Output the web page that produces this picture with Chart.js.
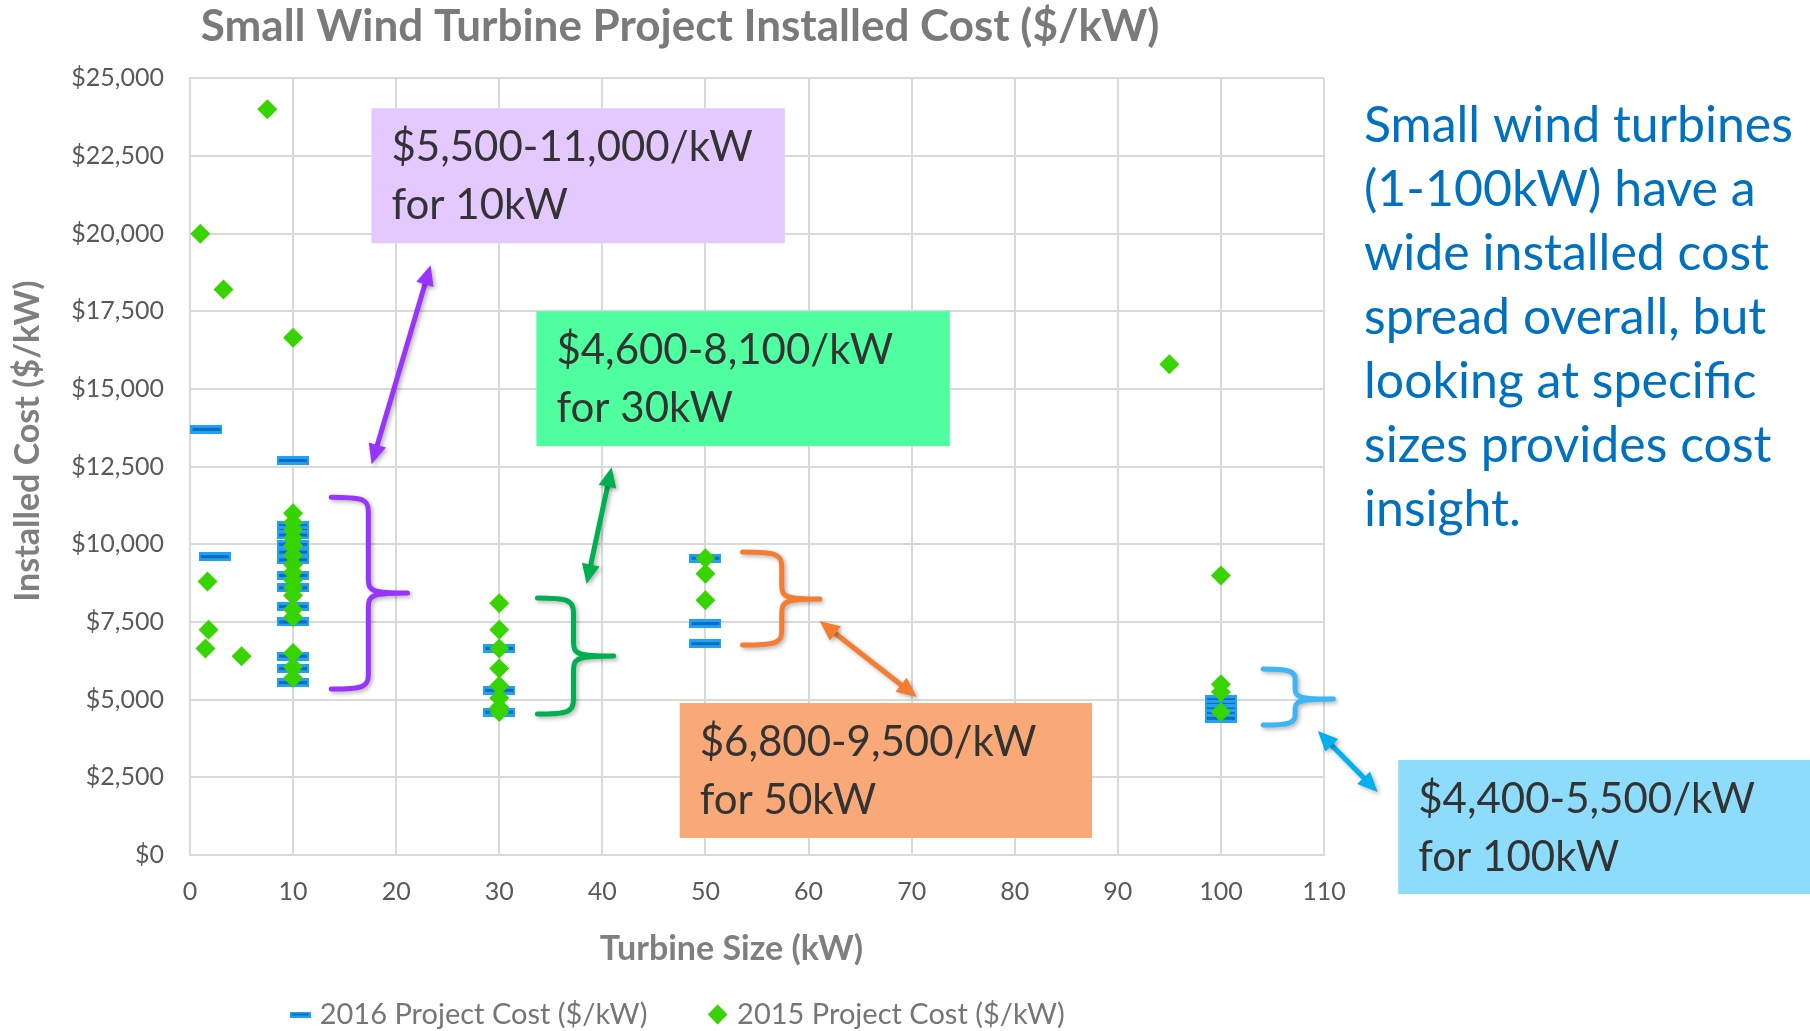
<!DOCTYPE html>
<html lang="en">
<head>
<meta charset="utf-8">
<title>small wind turbine installed cost</title>
<style>
  html, body { margin: 0; padding: 0; background: #ffffff; }
  #wrap { width: 1810px; height: 1031px; }
</style>
</head>
<body>
<div id="wrap"><canvas id="costChart"></canvas></div>

<script src="https://cdn.jsdelivr.net/npm/chart.js"></script>
<script>
  // turbine size (kW) and installed cost ($/kW)
  const sizes2016 = [1.6, 2.4,
    10, 10, 10, 10, 10, 10, 10, 10, 10, 10, 10, 10, 10, 10,
    30, 30, 30,
    50, 50, 50,
    100, 100, 100, 100, 100];
  const costs2016 = [13700, 9600,
    12700, 10600, 10450, 10300, 10000, 9750, 9500, 9000, 8600, 8000, 7500, 6400, 6000, 5550,
    6650, 5300, 4600,
    9550, 7450, 6800,
    5000, 4850, 4700, 4550, 4400];

  const sizes2015 = [1, 3.25, 7.5, 1.7, 1.8, 1.5, 5,
    10, 10, 10, 10, 10, 10, 10, 10, 10, 10, 10, 10, 10, 10, 10, 10, 10,
    30, 30, 30, 30, 30, 30, 30, 30,
    50, 50, 50,
    95,
    100, 100, 100, 100];
  const costs2015 = [20000, 18200, 24000, 8800, 7250, 6650, 6400,
    16650, 11000, 10700, 10450, 10200, 9950, 9650, 9350, 9100, 8850, 8600, 8350, 7900, 7650, 6500, 6050, 5700,
    8100, 7250, 6650, 6000, 5450, 5050, 4750, 4600,
    9550, 9050, 8200,
    15800,
    9000, 5500, 5250, 4600];

  const sideText = ['Small wind turbines', '(1-100kW) have a', 'wide installed cost',
    'spread overall, but', 'looking at specific', 'sizes provides cost', 'insight.'];

  // call-out boxes, braces and arrows, in axis units
  const notes = [
    {lines: ['$5,500-11,000/kW', 'for 10kW'], fill: '#e3c9ff', x1: 17.6, y1: 24035, x2: 57.7, y2: 19691},
    {lines: ['$4,600-8,100/kW', 'for 30kW'], fill: '#4fff9f', x1: 33.6, y1: 17503, x2: 73.7, y2: 13160},
    {lines: ['$6,800-9,500/kW', 'for 50kW'], fill: '#f9a877', x1: 47.5, y1: 4891, x2: 87.5, y2: 547},
    {lines: ['$4,400-5,500/kW', 'for 100kW'], fill: '#8edcfb', x1: 117.2, y1: 3057, x2: 157.2, y2: -1255}
  ];
  const braces = [
    {color: '#9933ff', x0: 13.7, xv: 17.3, tip: 21.1, top: 11519, mid: 8430, bot: 5341},
    {color: '#00b050', x0: 33.7, xv: 37.2, tip: 41.1, top: 8269, mid: 6403, bot: 4537},
    {color: '#f47d31', x0: 53.6, xv: 57.4, tip: 61.1, top: 9749, mid: 8237, bot: 6757},
    {color: '#3cb6f4', x0: 104.1, xv: 107.2, tip: 110.9, top: 5985, mid: 5019, bot: 4183}
  ];
  const arrows = [
    {color: '#9933ff', from: [17.62, 12580], to: [23.34, 18983]},
    {color: '#00b050', from: [38.47, 8719], to: [40.9, 12484]},
    {color: '#f47d31', from: [61.07, 7529], to: [70.5, 5084]},
    {color: '#00b0f0', from: [109.4, 3990], to: [115.2, 2027]}
  ];

  Chart.defaults.font.family = 'Lato';

  function makeDash(w, h, inner) {
    const c = document.createElement('canvas');
    c.width = w; c.height = h;
    const g = c.getContext('2d');
    g.fillStyle = '#22a1f2';
    g.fillRect(0, 0, w, h);
    g.fillStyle = '#0b6cc0';
    g.fillRect(2, Math.round((h - inner) / 2), w - 4, inner);
    return c;
  }
  const dashMark = makeDash(32, 9, 3);
  const legendDash = makeDash(21, 6, 2);

  function shadowOn(ctx) {
    ctx.shadowColor = 'rgba(0,0,0,0.3)';
    ctx.shadowBlur = 4;
    ctx.shadowOffsetX = 2;
    ctx.shadowOffsetY = 2;
  }

  function drawBrace(ctx, b, xs, ys) {
    const x0 = xs(b.x0), xv = xs(b.xv), xt = xs(b.tip);
    const yt = ys(b.top), ym = ys(b.mid), yb = ys(b.bot);
    const r = Math.min(14, (ym - yt) / 3);
    ctx.strokeStyle = b.color;
    ctx.lineWidth = 5;
    ctx.lineCap = 'round';
    ctx.beginPath();
    ctx.moveTo(x0, yt);
    ctx.bezierCurveTo(xv - 6, yt, xv, yt + 2, xv, yt + r);
    ctx.lineTo(xv, ym - r);
    ctx.bezierCurveTo(xv, ym - 2, xv + 4, ym, xt, ym);
    ctx.moveTo(xt, ym);
    ctx.bezierCurveTo(xv + 4, ym, xv, ym + 2, xv, ym + r);
    ctx.lineTo(xv, yb - r);
    ctx.bezierCurveTo(xv, yb - 2, xv - 6, yb, x0, yb);
    ctx.stroke();
  }

  function drawArrow(ctx, a, xs, ys) {
    const x1 = xs(a.from[0]), y1 = ys(a.from[1]);
    const x2 = xs(a.to[0]), y2 = ys(a.to[1]);
    const ang = Math.atan2(y2 - y1, x2 - x1);
    const c = Math.cos(ang), s = Math.sin(ang);
    const head = 20, half = 9;
    ctx.strokeStyle = a.color;
    ctx.fillStyle = a.color;
    ctx.lineWidth = 5;
    ctx.lineCap = 'butt';
    ctx.beginPath();
    ctx.moveTo(x1 + c * head * 0.8, y1 + s * head * 0.8);
    ctx.lineTo(x2 - c * head * 0.8, y2 - s * head * 0.8);
    ctx.stroke();
    [[x1, y1, -1], [x2, y2, 1]].forEach(([px, py, d]) => {
      const bx = px - d * c * head, by = py - d * s * head;
      ctx.beginPath();
      ctx.moveTo(px, py);
      ctx.lineTo(bx - s * half, by + c * half);
      ctx.lineTo(bx + s * half, by - c * half);
      ctx.closePath();
      ctx.fill();
    });
  }

  const overlay = {
    id: 'overlay',
    afterDraw(chart) {
      const ctx = chart.ctx;
      const xsc = chart.scales.x, ysc = chart.scales.y;
      const xs = v => xsc.getPixelForValue(v);
      const ys = v => ysc.getPixelForValue(v);

      notes.forEach(n => {
        const l = xs(n.x1), t = ys(n.y1), r = xs(n.x2), b = ys(n.y2);
        ctx.save();
        ctx.fillStyle = n.fill;
        ctx.fillRect(l, t, r - l, b - t);
        ctx.fillStyle = '#333333';
        ctx.font = '42px Lato';
        ctx.textBaseline = 'middle';
        ctx.textAlign = 'left';
        ctx.fillText(n.lines[0], l + 20, t + 39);
        ctx.fillText(n.lines[1], l + 20, t + 97);
        ctx.restore();
      });

      braces.forEach(b => { ctx.save(); shadowOn(ctx); drawBrace(ctx, b, xs, ys); ctx.restore(); });
      arrows.forEach(a => { ctx.save(); shadowOn(ctx); drawArrow(ctx, a, xs, ys); ctx.restore(); });

      ctx.save();
      ctx.fillStyle = '#0070c0';
      ctx.font = '50px Lato';
      ctx.textBaseline = 'middle';
      ctx.textAlign = 'left';
      sideText.forEach((line, i) => {
        ctx.fillText(line, chart.chartArea.right + 40, chart.chartArea.top + 48 + i * 64);
      });
      ctx.restore();
    }
  };

  const pts2015 = sizes2015.map((x, i) => ({x: x, y: costs2015[i]}));
  const pts2016 = sizes2016.map((x, i) => ({x: x, y: costs2016[i]}));

  const ctx = document.getElementById('costChart');
  const costChart = new Chart(ctx, {
    type: 'scatter',
    data: {
      datasets: [{
        label: '2015 Project Cost ($/kW)',
        data: pts2015,
        pointStyle: 'rectRot',
        pointRadius: 10,
        pointHoverRadius: 10,
        backgroundColor: '#38d400',
        borderColor: '#38d400',
        borderWidth: 0
      }, {
        label: '2016 Project Cost ($/kW)',
        data: pts2016,
        pointStyle: dashMark,
        pointRadius: 16,
        backgroundColor: '#22a1f2',
        borderColor: '#22a1f2'
      }]
    },
    options: {
      responsive: true,
      maintainAspectRatio: false,
      animation: false,
      layout: {padding: {left: 0, right: 450, top: 0, bottom: -8}},
      plugins: {
        title: {
          display: true,
          text: 'Small Wind Turbine Project Installed Cost ($/kW)',
          color: '#7a7a7a',
          font: {size: 44, weight: 'bold'},
          padding: {top: 0, bottom: 25.5}
        },
        legend: {
          position: 'bottom',
          reverse: true,
          labels: {
            usePointStyle: true,
            boxWidth: 10,
            boxHeight: 14,
            padding: 0,
            color: '#767676',
            font: {size: 29},
            generateLabels: (chart) => {
              const items = Chart.defaults.plugins.legend.labels.generateLabels(chart);
              items.forEach(it => {
                if (it.datasetIndex === 1) {
                  it.pointStyle = legendDash;
                  it.text = it.text + '\u2003\u2003\u2003';
                }
              });
              return items;
            }
          }
        },
        tooltip: {enabled: false}
      },
      scales: {
        x: {
          type: 'linear',
          min: 0, max: 110,
          ticks: {stepSize: 10, color: '#595959', font: {size: 25}, padding: 22},
          grid: {color: '#d9d9d9', lineWidth: 2, drawTicks: false},
          border: {color: '#d9d9d9', width: 2},
          title: {display: true, text: 'Turbine Size (kW)\u2003\u2003', color: '#7f7f7f',
                  font: {size: 34, weight: 'bold'}, padding: {top: 20, bottom: 31}},
          afterFit: (axis) => { axis.paddingRight = 486; axis.height = 145; }
        },
        y: {
          min: 0, max: 25000,
          ticks: {stepSize: 2500, color: '#595959', font: {size: 25}, padding: 26,
                  callback: (v) => '$' + v.toLocaleString('en-US')},
          grid: {color: '#d9d9d9', lineWidth: 2, drawTicks: false},
          border: {color: '#d9d9d9', width: 2},
          title: {display: true, text: '\u2003\u2003Installed Cost ($/kW)', color: '#7f7f7f',
                  font: {size: 34, weight: 'bold'}, padding: {top: 8, bottom: 0}},
          afterFit: (axis) => { axis.width = 190; }
        }
      }
    },
    plugins: [overlay]
  });
</script>
</body>
</html>
